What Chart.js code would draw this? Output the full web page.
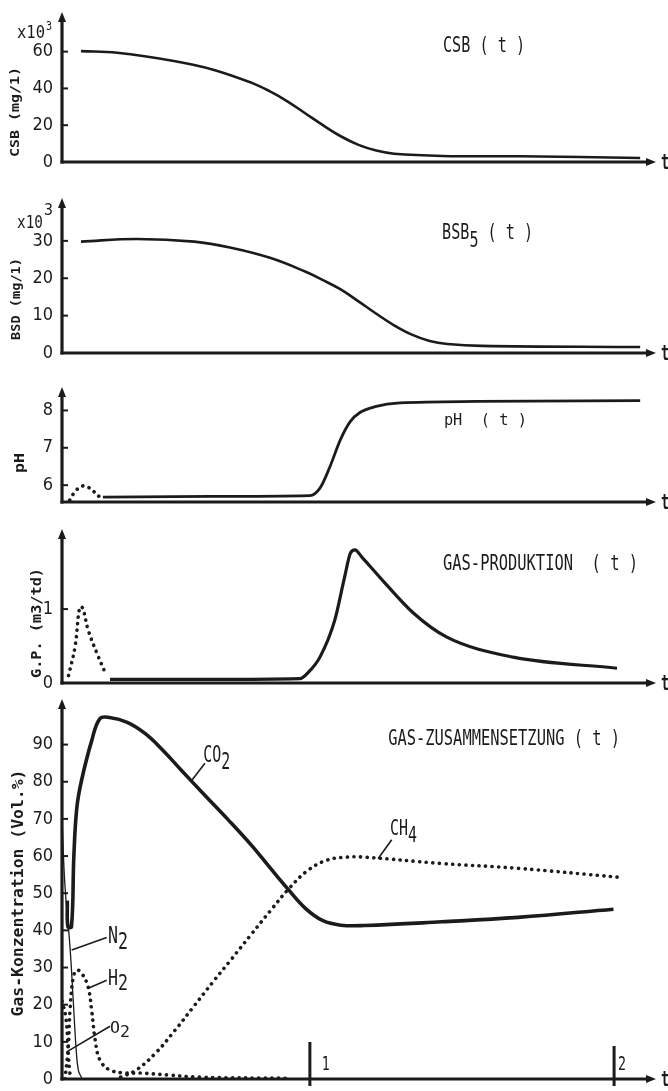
<!DOCTYPE html>
<html>
<head>
<meta charset="utf-8">
<script src="https://cdn.jsdelivr.net/npm/chart.js@4.4.0/dist/chart.umd.min.js"></script>
<style>
  html, body { margin: 0; padding: 0; background: #fff; }
  #wrap { position: relative; width: 668px; height: 1091px; overflow: hidden; }
  canvas { position: absolute; left: 0; }
</style>
</head>
<body>
<div id="wrap">
  <canvas id="p1" width="668" height="180" style="top:0px"></canvas>
  <canvas id="p2" width="668" height="190" style="top:180px"></canvas>
  <canvas id="p3" width="668" height="150" style="top:370px"></canvas>
  <canvas id="p4" width="668" height="175" style="top:520px"></canvas>
  <canvas id="p5" width="668" height="396" style="top:695px"></canvas>
</div>
<script>
// t runs along the drawn axis, 0..100 from origin to arrow
const TIME_MARKS = [41.8, 93.1];
const TIME_LABELS = ["1", "2"];

// CSB (x10^3 mg/l)
const CSB_T   = [3.2, 9.3, 19.1, 25.5, 32, 35, 38, 41, 44, 47, 50, 53, 56, 64.2, 77.2, 97.5];
const CSB_VAL = [60.3, 59.4, 54.8, 50.2, 43, 38.5, 33, 26.5, 20, 14, 9.3, 6.2, 4.5, 3.3, 3.1, 2.2];
const CSB_TICKS = [0, 20, 40, 60];

// BSB5 (x10^3 mg/l)
const BSB_T   = [3.2, 12.6, 22.3, 28.7, 35.2, 41, 44, 47, 50, 53, 56, 59, 62, 65, 70.7, 97.5];
const BSB_VAL = [29.8, 30.5, 29.8, 28.1, 25.4, 21.8, 19.5, 17, 13.8, 10.5, 7.4, 4.9, 3.2, 2.4, 1.9, 1.6];
const BSB_TICKS = [0, 10, 20, 30];

// pH
const PH_EARLY_T   = [1.3, 2.3, 3.5, 4.4, 6.4];
const PH_EARLY_VAL = [5.6, 5.85, 5.98, 5.95, 5.68];
const PH_T   = [6.9, 25, 41.8, 43.5, 45.2, 46.9, 48.6, 50.3, 52.8, 57, 70, 97.5];
const PH_VAL = [5.68, 5.7, 5.72, 5.92, 6.5, 7.2, 7.7, 7.95, 8.1, 8.2, 8.24, 8.26];
const PH_TICKS = [6, 7, 8];

// Gas-Produktion (m3/td)
const GP_EARLY_T   = [1.1, 2.2, 3.0, 3.5, 4.4, 5.9, 7.5];
const GP_EARLY_VAL = [0.1, 0.49, 1.03, 1.01, 0.72, 0.4, 0.1];
const GP_T   = [8.1, 25, 40.1, 41.6, 43.5, 46, 47.7, 48.6, 49.4, 50.6, 53.6, 59.2, 64.9, 76.1, 93.6];
const GP_VAL = [0.05, 0.05, 0.06, 0.15, 0.35, 0.85, 1.45, 1.75, 1.8, 1.7, 1.43, 0.95, 0.62, 0.35, 0.2];
const GP_TICKS = [0, 1];

// Gas-Zusammensetzung (Vol.%)
const CO2_T   = [0.9, 1.0, 1.6, 2.0, 2.5, 3.3, 5.0, 6.4, 8.0, 11, 14, 17, 20, 24, 28, 32, 35, 38, 41, 44, 47, 51, 64, 76.9, 93];
const CO2_VAL = [48, 41, 41, 60, 73, 80.4, 91, 97, 97.3, 96, 93, 88.5, 83.3, 76.5, 69.8, 62.8, 57, 51.3, 46, 42.6, 41.4, 41.3, 42.3, 43.5, 45.7];
const CH4_T   = [9.9, 12.5, 15.8, 19, 22.2, 25.4, 28.6, 31.8, 35.1, 38.3, 41.5, 44.7, 47.9, 51.1, 64, 76.9, 93.9];
const CH4_VAL = [0.5, 2.4, 7, 13, 19.5, 26, 32.3, 38.7, 45.2, 51.3, 56.2, 58.9, 59.7, 59.7, 58, 56.7, 54.3];
const H2_T    = [0.5, 1.06, 1.35, 1.9, 2.5, 3.3, 4.4, 5.0, 5.6, 6.4, 8.1, 10.9, 13.2, 17.7, 23.3, 38.3];
const H2_VAL  = [0, 8.6, 18.5, 27.4, 29.3, 28.5, 24.8, 18.5, 10.5, 5.1, 2.4, 1.6, 1.6, 1.1, 0.5, 0.2];
const N2_T    = [0, 0.5, 1.35, 1.9, 2.36, 2.75, 3.3];
const N2_VAL  = [70, 52, 35.5, 21, 8.6, 2.4, 0.3];
const O2_T    = [0, 0.6, 0.9, 1.1, 1.3, 1.5];
const O2_VAL  = [21, 17, 12, 6, 2, 0];
const GAS_TICKS = [0, 10, 20, 30, 40, 50, 60, 70, 80, 90];

const INK = "#1b1b1b";
const MONO = '"DejaVu Sans Mono", "Liberation Mono", monospace';
const NARROW = '"Liberation Sans Narrow", "DejaVu Sans Condensed", "Liberation Sans", sans-serif';

/**
 * text in the typewriter look: parts = [[text, dy]], scaled to width w and cap height h
 */
function drawText(ctx, parts, x, y, w, h, opts = {}) {
  ctx.save();
  ctx.font = (opts.bold ? "bold " : "") + "20px " + MONO;
  const widths = parts.map(p => ctx.measureText(p[0]).width);
  const total = widths.reduce((s, v) => s + v, 0);
  const sx = w / total, sy = h / 14.6;
  ctx.translate(x, y);
  if (opts.rotate) ctx.rotate(-Math.PI / 2);
  ctx.scale(sx, sy);
  ctx.fillStyle = INK;
  ctx.textBaseline = opts.center ? "middle" : "alphabetic";
  let cx = opts.center ? -total / 2 : 0;
  parts.forEach((p, i) => {
    ctx.fillText(p[0], cx, (p[1] || 0) / sy);
    cx += widths[i];
  });
  ctx.restore();
}

function line(ctx, x1, y1, x2, y2, w) {
  ctx.lineWidth = w;
  ctx.beginPath();
  ctx.moveTo(x1, y1);
  ctx.lineTo(x2, y2);
  ctx.stroke();
}

/**
 * hand-drawn looking axes, arrows, ticks and the labels
 */
function sketchPlugin(p) {
  return {
    id: "sketch",
    afterDatasetsDraw(chart) {
      const { ctx, chartArea: a, scales: { x, y } } = chart;
      ctx.save();
      ctx.strokeStyle = INK;
      ctx.fillStyle = INK;

      line(ctx, a.left, a.bottom + 1.5, a.left, a.top + 6, 3.2);
      line(ctx, a.left - 1.5, a.bottom, a.right - 6, a.bottom, 3);

      ctx.beginPath();
      ctx.moveTo(a.left, a.top - 1);
      ctx.lineTo(a.left - 4, a.top + 9);
      ctx.lineTo(a.left + 4, a.top + 9);
      ctx.closePath();
      ctx.fill();
      ctx.beginPath();
      ctx.moveTo(a.right + 1, a.bottom);
      ctx.lineTo(a.right - 9, a.bottom - 4);
      ctx.lineTo(a.right - 9, a.bottom + 4);
      ctx.closePath();
      ctx.fill();

      y.ticks.forEach(t => {
        const py = y.getPixelForValue(t.value);
        if (Math.abs(py - a.bottom) > 2) line(ctx, a.left, py, a.left + 6, py, 2);
      });

      // cut-off "t" beyond the arrow
      drawText(ctx, [["t"]], 661, a.bottom + 7, 8, 15, { bold: true });

      // y axis title
      const yt = p.yTitle;
      drawText(ctx, [[yt.text]], yt.cx, yt.cy, yt.len, yt.h, { bold: true, rotate: true, center: true });

      // x10^3
      if (p.factor) {
        const f = p.factor;
        drawText(ctx, [["x10"]], f.x, f.y, f.w, 13);
        drawText(ctx, [["3"]], f.sx, f.sy, f.sw, f.sh);
      }

      // labels placed in data coordinates
      p.notes.forEach(n => {
        drawText(ctx, n.parts, x.getPixelForValue(n.t), y.getPixelForValue(n.v), n.w, n.h);
        if (n.lead) {
          const [t1, v1, t2, v2] = n.lead;
          line(ctx, x.getPixelForValue(t1), y.getPixelForValue(v1), x.getPixelForValue(t2), y.getPixelForValue(v2), 1.6);
        }
      });

      if (p.timeMarks) {
        TIME_MARKS.forEach((t, i) => {
          const px = x.getPixelForValue(t);
          line(ctx, px, a.bottom - (i === 0 ? 37 : 33), px, a.bottom + 7, 3);
          drawText(ctx, [[TIME_LABELS[i]]], px + (i === 0 ? 12 : 4), a.bottom - 9, 8, 14);
        });
      }
      ctx.restore();
    }
  };
}

const solid = (t, v, w, mono) => ({ t, v, width: w, dotted: false, mono });
const dotted = (t, v) => ({ t, v, width: 3.6, dotted: true });

const PANELS = [
  {
    id: "p1", padTop: 13, padBottom: 18, min: 0, max: 81, ticks: CSB_TICKS,
    series: [solid(CSB_T, CSB_VAL, 2.6)],
    yTitle: { text: "CSB (mg/1)", cx: 16, cy: 112, len: 90, h: 9 },
    factor: { x: 17, y: 38, w: 28, sx: 46, sy: 30, sw: 6, sh: 9 },
    notes: [{ parts: [["CSB ( t )"]], t: 64.25, v: 59.6, w: 82, h: 15 }]
  },
  {
    id: "p2", padTop: 19, padBottom: 17, min: 0, max: 41.2, ticks: BSB_TICKS,
    series: [solid(BSB_T, BSB_VAL, 2.6)],
    yTitle: { text: "BSD (mg/1)", cx: 17, cy: 119, len: 82, h: 9 },
    factor: { x: 17, y: 48, w: 26, sx: 44, sy: 35, sw: 9, sh: 12 },
    notes: [{ parts: [["BSB"], ["5", 8], [" ( t )"]], t: 64.1, v: 30.6, w: 91, h: 15 }]
  },
  {
    id: "p3", padTop: 18, padBottom: 18, min: 5.55, max: 8.6, ticks: PH_TICKS,
    series: [dotted(PH_EARLY_T, PH_EARLY_VAL), solid(PH_T, PH_VAL, 2.8, true)],
    yTitle: { text: "pH", cx: 20, cy: 93, len: 20, h: 10 },
    notes: [{ parts: [["pH  ( t )"]], t: 64.4, v: 7.6, w: 83, h: 12 }]
  },
  {
    id: "p4", padTop: 10, padBottom: 12, min: 0, max: 2.07, ticks: GP_TICKS,
    series: [dotted(GP_EARLY_T, GP_EARLY_VAL), solid(GP_T, GP_VAL, 3.2, true)],
    yTitle: { text: "G.P. (m3/td)", cx: 37, cy: 103, len: 110, h: 10 },
    notes: [{ parts: [["GAS-PRODUKTION  ( t )"]], t: 64.25, v: 1.53, w: 195, h: 15 }]
  },
  {
    id: "p5", padTop: 5, padBottom: 12, min: 0, max: 102, ticks: GAS_TICKS,
    series: [
      solid(CO2_T, CO2_VAL, 3.6), dotted(CH4_T, CH4_VAL), dotted(H2_T, H2_VAL),
      solid(N2_T, N2_VAL, 1.3), dotted(O2_T, O2_VAL)
    ],
    yTitle: { text: "Gas-Konzentration (Vol.%)", cx: 19, cy: 198, len: 247, h: 11 },
    timeMarks: true,
    notes: [
      { parts: [["GAS-ZUSAMMENSETZUNG ( t )"]], t: 55, v: 89.8, w: 232, h: 15 },
      { parts: [["CO"], ["2", 7]], t: 23.8, v: 85.2, w: 27, h: 17, lead: [24.1, 85, 21.9, 80.4] },
      { parts: [["CH"], ["4", 7]], t: 55.3, v: 65.6, w: 27, h: 15, lead: [55.6, 64.4, 53.3, 59.3] },
      { parts: [["N"], ["2", 6]], t: 7.76, v: 36.6, w: 20, h: 17, lead: [1.64, 34.7, 7.54, 38.1] },
      { parts: [["H"], ["2", 5]], t: 7.76, v: 25.3, w: 20, h: 15, lead: [4.44, 24.4, 7.54, 26.6] },
      { parts: [["O"], ["2", 4]], t: 8.1, v: 12.4, w: 20, h: 11, lead: [0.79, 7.3, 8.1, 14.2] }
    ]
  }
];

function makeChart(p) {
  const datasets = p.series.map(s => ({
    data: s.t.map((t, i) => ({ x: t, y: s.v[i] })),
    borderColor: INK,
    borderWidth: s.width,
    borderDash: s.dotted ? [0.1, 6.5] : [],
    borderCapStyle: s.dotted ? "round" : "butt",
    borderJoinStyle: "round",
    pointRadius: 0,
    tension: 0.4,
    cubicInterpolationMode: s.mono ? "monotone" : "default",
    fill: false
  }));

  new Chart(document.getElementById(p.id), {
    type: "line",
    data: { datasets },
    plugins: [sketchPlugin(p)],
    options: {
      responsive: false,
      animation: false,
      events: [],
      layout: { padding: { left: 0, right: 13, top: p.padTop, bottom: p.padBottom } },
      plugins: { legend: { display: false }, tooltip: { enabled: false } },
      scales: {
        x: { type: "linear", display: false, min: 0, max: 100 },
        y: {
          type: "linear",
          min: p.min,
          max: p.max,
          grid: { display: false, drawTicks: false },
          border: { display: false },
          afterBuildTicks: s => { s.ticks = p.ticks.map(v => ({ value: v })); },
          afterFit: s => { s.width = 62; s.paddingTop = 0; s.paddingBottom = 0; },
          ticks: { color: INK, padding: 9, font: { family: NARROW, size: 18 } }
        }
      }
    }
  });
}

PANELS.forEach(makeChart);
</script>
</body>
</html>
